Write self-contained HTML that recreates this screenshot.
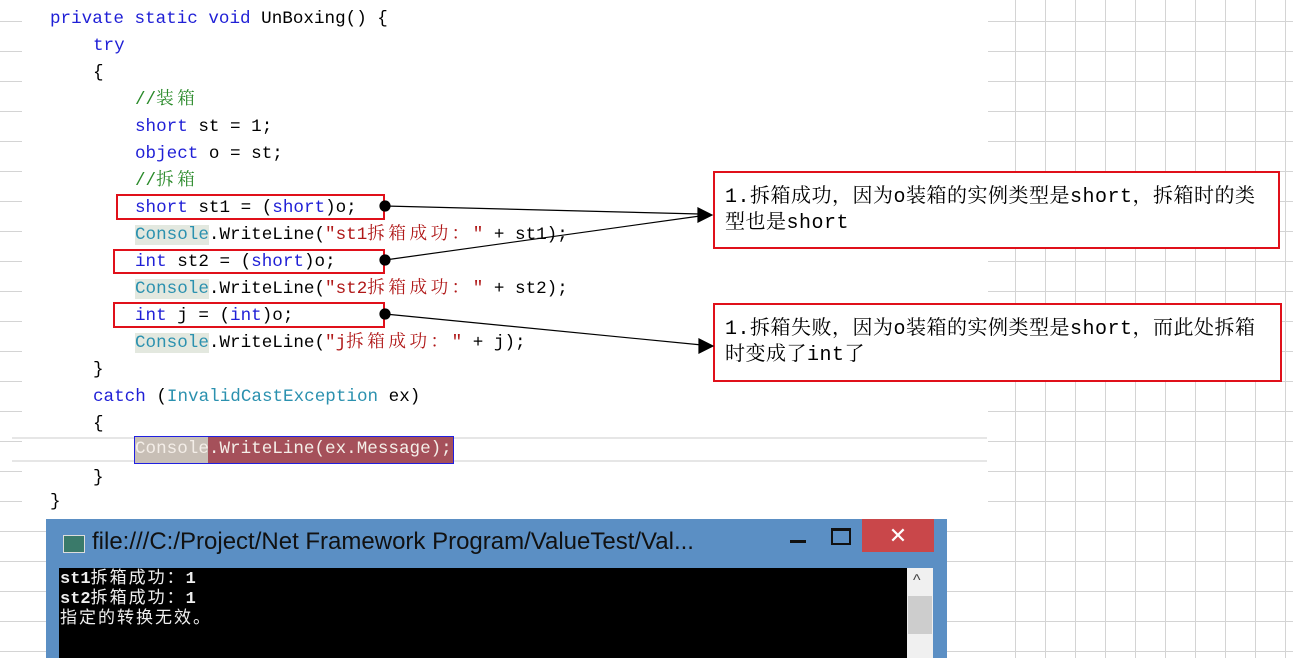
<!DOCTYPE html>
<html><head><meta charset="utf-8"><style>
body{margin:0;width:1293px;height:658px;position:relative;overflow:hidden;background:#fff;font-family:"Liberation Mono","Noto Sans CJK SC",monospace}
.code{position:absolute;left:22px;top:0;width:966px;height:519px;background:#fff}
.ln{position:absolute;font-size:17.6px;line-height:20px;white-space:pre;color:#000;font-family:"Liberation Mono","Noto Serif CJK SC",monospace;margin-top:2px}
.k{color:#1f1fd6}.s{color:#b01818}.c{color:#2a8a2a}.t{color:#2b91af}.cb{color:#2b91af;background:#e3e8df}
.z{letter-spacing:3.5px}
.rb{position:absolute;border:2px solid #e0101a;box-sizing:border-box}
.note{position:absolute;border:2px solid #e0101a;box-sizing:border-box;background:#fff;font-family:"Liberation Mono","Noto Serif CJK SC",serif;font-size:20px;letter-spacing:0.5px;line-height:26px;padding:12px 0 0 10px;color:#000;white-space:nowrap}
</style></head><body>
<svg width="1293" height="658" style="position:absolute;left:0;top:0">
<g stroke="#d4d4d4" stroke-width="1">
<line x1="1015.5" y1="0" x2="1015.5" y2="658"/><line x1="1045.5" y1="0" x2="1045.5" y2="658"/><line x1="1075.5" y1="0" x2="1075.5" y2="658"/><line x1="1105.5" y1="0" x2="1105.5" y2="658"/><line x1="1135.5" y1="0" x2="1135.5" y2="658"/><line x1="1165.5" y1="0" x2="1165.5" y2="658"/><line x1="1195.5" y1="0" x2="1195.5" y2="658"/><line x1="1225.5" y1="0" x2="1225.5" y2="658"/><line x1="1255.5" y1="0" x2="1255.5" y2="658"/><line x1="1285.5" y1="0" x2="1285.5" y2="658"/>
<line x1="0" y1="21.5" x2="1293" y2="21.5"/><line x1="0" y1="51.5" x2="1293" y2="51.5"/><line x1="0" y1="81.5" x2="1293" y2="81.5"/><line x1="0" y1="111.5" x2="1293" y2="111.5"/><line x1="0" y1="141.5" x2="1293" y2="141.5"/><line x1="0" y1="171.5" x2="1293" y2="171.5"/><line x1="0" y1="201.5" x2="1293" y2="201.5"/><line x1="0" y1="231.5" x2="1293" y2="231.5"/><line x1="0" y1="261.5" x2="1293" y2="261.5"/><line x1="0" y1="291.5" x2="1293" y2="291.5"/><line x1="0" y1="321.5" x2="1293" y2="321.5"/><line x1="0" y1="351.5" x2="1293" y2="351.5"/><line x1="0" y1="381.5" x2="1293" y2="381.5"/><line x1="0" y1="411.5" x2="1293" y2="411.5"/><line x1="0" y1="441.5" x2="1293" y2="441.5"/><line x1="0" y1="471.5" x2="1293" y2="471.5"/><line x1="0" y1="501.5" x2="1293" y2="501.5"/><line x1="0" y1="531.5" x2="1293" y2="531.5"/><line x1="0" y1="561.5" x2="1293" y2="561.5"/><line x1="0" y1="591.5" x2="1293" y2="591.5"/><line x1="0" y1="621.5" x2="1293" y2="621.5"/><line x1="0" y1="651.5" x2="1293" y2="651.5"/>
</g></svg>
<div class="code"></div>
<div style="position:absolute;left:12px;top:437px;width:975px;height:2px;background:#e6e6e6"></div>
<div style="position:absolute;left:12px;top:460px;width:975px;height:2px;background:#e6e6e6"></div>
<div style="position:absolute;left:135px;top:437px;width:73px;height:26px;background:#c8bfb6"></div>
<div style="position:absolute;left:208px;top:437px;width:245px;height:26px;background:#a5505a"></div>
<div style="position:absolute;left:134px;top:436px;width:320px;height:28px;border:1px solid #2020e0;box-sizing:border-box"></div>

<div class="ln" style="left:50px;top:7px"><span class="k">private static void</span> UnBoxing() {</div>
<div class="ln" style="left:93px;top:34px"><span class="k">try</span></div>
<div class="ln" style="left:93px;top:61px">{</div>
<div class="ln" style="left:135px;top:88px"><span class="c">//<span class="z">装箱</span></span></div>
<div class="ln" style="left:135px;top:115px"><span class="k">short</span> st = 1;</div>
<div class="ln" style="left:135px;top:142px"><span class="k">object</span> o = st;</div>
<div class="ln" style="left:135px;top:169px"><span class="c">//<span class="z">拆箱</span></span></div>
<div class="ln" style="left:135px;top:196px"><span class="k">short</span> st1 = (<span class="k">short</span>)o;</div>
<div class="ln" style="left:135px;top:223px"><span class="cb">Console</span>.WriteLine(<span class="s">"st1<span class="z">拆箱成功：</span>" </span>+ st1);</div>
<div class="ln" style="left:135px;top:250px"><span class="k">int</span> st2 = (<span class="k">short</span>)o;</div>
<div class="ln" style="left:135px;top:277px"><span class="cb">Console</span>.WriteLine(<span class="s">"st2<span class="z">拆箱成功：</span>" </span>+ st2);</div>
<div class="ln" style="left:135px;top:304px"><span class="k">int</span> j = (<span class="k">int</span>)o;</div>
<div class="ln" style="left:135px;top:331px"><span class="cb">Console</span>.WriteLine(<span class="s">"j<span class="z">拆箱成功：</span>" </span>+ j);</div>
<div class="ln" style="left:93px;top:358px">}</div>
<div class="ln" style="left:93px;top:385px"><span class="k">catch</span> (<span class="t">InvalidCastException</span> ex)</div>
<div class="ln" style="left:93px;top:412px">{</div>
<div class="ln" style="left:135px;top:437px;color:#f4eee8">Console.WriteLine(ex.Message);</div>
<div class="ln" style="left:93px;top:466px">}</div>
<div class="ln" style="left:50px;top:490px">}</div>

<div class="rb" style="left:116px;top:194px;width:269px;height:26px"></div>
<div class="rb" style="left:113px;top:249px;width:272px;height:25px"></div>
<div class="rb" style="left:113px;top:302px;width:272px;height:26px"></div>

<div class="note" style="left:713px;top:171px;width:567px;height:78px">1.拆箱成功，因为o装箱的实例类型是short，拆箱时的类<br>型也是short</div>
<div class="note" style="left:713px;top:303px;width:569px;height:79px">1.拆箱失败，因为o装箱的实例类型是short，而此处拆箱<br>时变成了int了</div>

<svg width="1293" height="658" style="position:absolute;left:0;top:0">
<g stroke="#000" stroke-width="1.2" fill="#000">
<line x1="385" y1="206" x2="700" y2="214"/><line x1="385" y1="260" x2="700" y2="216"/><line x1="385" y1="314" x2="702" y2="345"/>
<circle cx="385" cy="206" r="5"/><circle cx="385" cy="260" r="5"/><circle cx="385" cy="314" r="5"/>
<polygon points="712,215 698,208 698,222"/><polygon points="713,346 699,339 699,353"/>
</g></svg>

<div style="position:absolute;left:46px;top:519px;width:901px;height:139px;background:#5b8fc4"></div>
<div style="position:absolute;left:63px;top:535px;width:20px;height:16px;background:#3a7a6a;border:1px solid #ddd"></div>
<div style="position:absolute;left:92px;top:528px;font-family:'Liberation Sans',sans-serif;font-size:24px;color:#111;white-space:nowrap">file:///C:/Project/Net Framework Program/ValueTest/Val...</div>
<div style="position:absolute;left:790px;top:540px;width:16px;height:3px;background:#111"></div>
<div style="position:absolute;left:831px;top:528px;width:16px;height:12px;border:2px solid #111;border-top-width:3px"></div>
<div style="position:absolute;left:862px;top:519px;width:72px;height:33px;background:#c9474a;color:#fff;font-family:'Liberation Sans',sans-serif;font-size:22px;text-align:center;line-height:33px">✕</div>
<div style="position:absolute;left:59px;top:568px;width:848px;height:90px;background:#000"></div>
<div style="position:absolute;left:907px;top:568px;width:26px;height:90px;background:#f0f0f0"></div>
<div style="position:absolute;left:908px;top:596px;width:24px;height:38px;background:#cdcdcd"></div>
<div style="position:absolute;left:913px;top:572px;font-family:'Liberation Sans',sans-serif;font-size:16px;color:#444">^</div>
<div style="position:absolute;left:60px;top:570px;font-family:'Liberation Mono','Noto Sans CJK SC',monospace;font-size:17px;line-height:20px;color:#eee;white-space:pre;font-weight:bold">st1<span style="font-weight:normal;letter-spacing:2px">拆箱成功：</span>1
st2<span style="font-weight:normal;letter-spacing:2px">拆箱成功：</span>1
<span style="font-weight:normal;letter-spacing:2px">指定的转换无效。</span></div>
</body></html>
